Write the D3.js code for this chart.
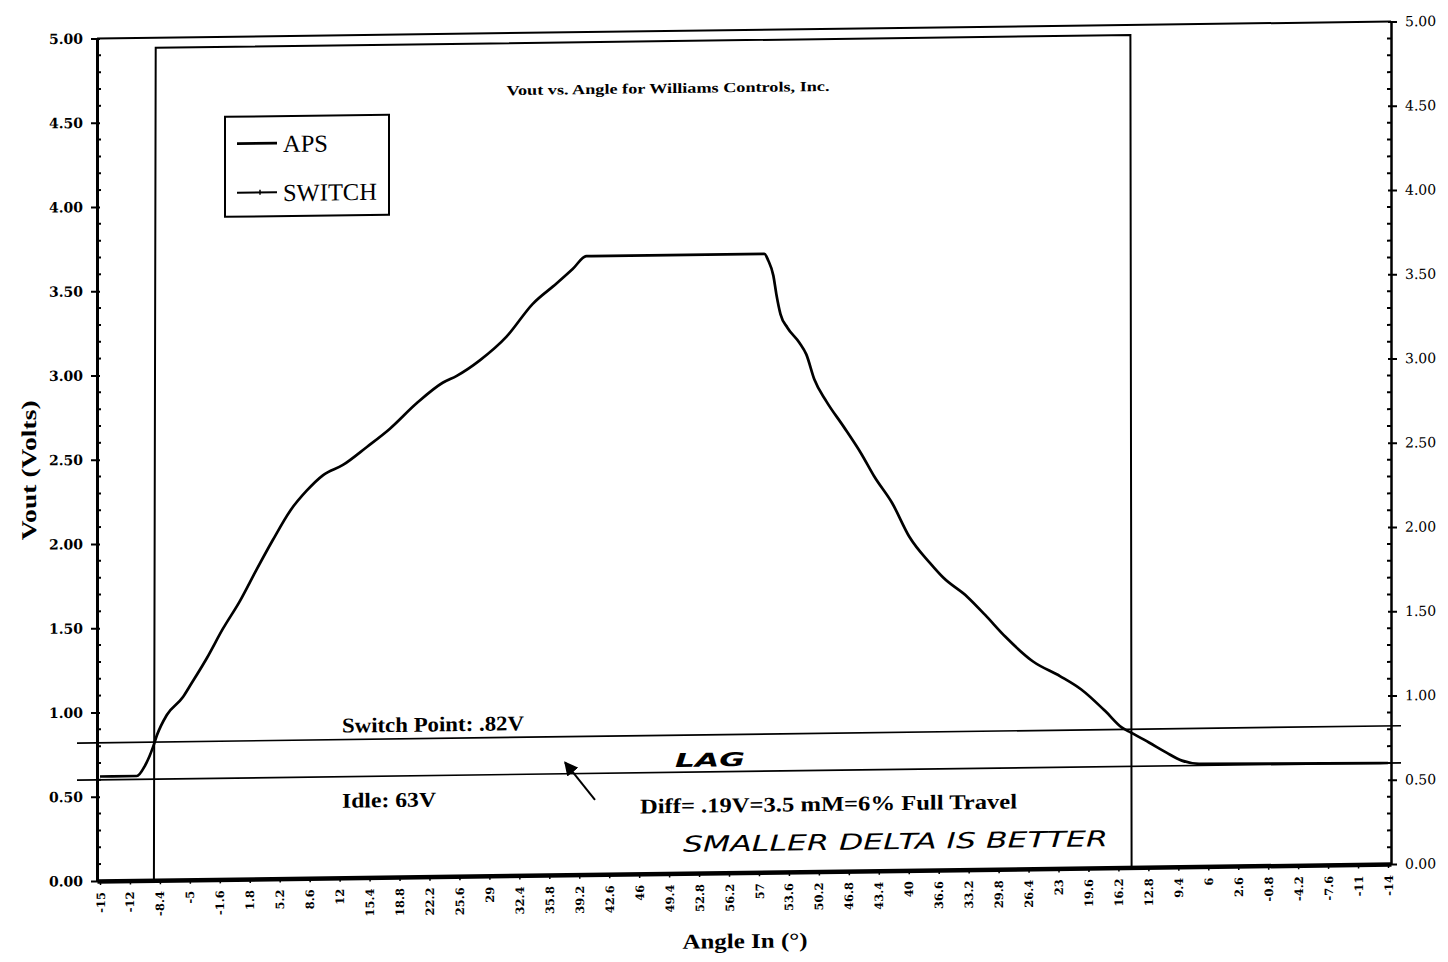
<!DOCTYPE html>
<html><head><meta charset="utf-8">
<script src="https://cdn.jsdelivr.net/npm/d3@7"></script>
<style>body{margin:0;background:#fff}</style>
</head><body>
<svg id="chart" width="1448" height="962"></svg>
<script>
// ---- data ----
const tickLabels = ["-15","-12","-8.4","-5","-1.6","1.8","5.2","8.6","12","15.4","18.8","22.2","25.6","29","32.4","35.8","39.2","42.6","46","49.4","52.8","56.2","57","53.6","50.2","46.8","43.4","40","36.6","33.2","29.8","26.4","23","19.6","16.2","12.8","9.4","6","2.6","-0.8","-4.2","-7.6","-11","-14"];
const yTickValues = [0, 0.5, 1, 1.5, 2, 2.5, 3, 3.5, 4, 4.5, 5];
// APS: position along the sweep (in tick-label units) and voltage
const apsPos   = [0, 1.23, 1.50, 1.77, 1.90, 2.23, 2.77, 3.00, 3.57, 4.10, 4.67, 5.24, 5.77, 6.34, 6.90, 7.44, 8.11, 8.91, 9.67, 10.57, 11.44, 11.91, 12.68, 13.58, 14.44, 15.24, 15.78, 16.24, 22.18, 22.31, 22.48, 22.58, 22.72, 22.95, 23.35, 23.58, 23.85, 24.25, 24.82, 25.42, 25.85, 26.45, 27.02, 27.72, 28.15, 28.95, 29.55, 30.22, 31.15, 32.06, 32.76, 33.56, 34.12, 34.42, 35.02, 35.59, 36.12, 36.69, 43];
const apsVolts = [0.62, 0.62, 0.68, 0.79, 0.86, 0.98, 1.085, 1.15, 1.315, 1.486, 1.65, 1.84, 2.01, 2.18, 2.30, 2.39, 2.45, 2.555, 2.66, 2.81, 2.93, 2.97, 3.06, 3.20, 3.39, 3.51, 3.595, 3.67, 3.67, 3.63, 3.54, 3.43, 3.31, 3.23, 3.14, 3.07, 2.92, 2.79, 2.64, 2.475, 2.34, 2.18, 1.98, 1.82, 1.735, 1.62, 1.51, 1.38, 1.23, 1.14, 1.06, 0.93, 0.83, 0.80, 0.74, 0.68, 0.63, 0.61, 0.60];
// SWITCH
const switchPos   = [0, 1.80, 1.86, 34.40, 34.44, 43];
const switchVolts = [0, 0, 4.94, 4.94, 0, 0];
// reference lines
const refValues = [0.82, 0.60];
const refLabels = ["Switch Point: .82V", "Idle: 63V"];
const seriesNames = ["APS", "SWITCH"];

// ---- layout ----
const W = 1294, H = 842.5;
const svg = d3.select("#chart");
// scanned page is slightly sheared
const g = svg.append("g").attr("transform", "matrix(1,-0.0131,0,1,97,38.5)");

const x = d3.scaleLinear().domain([-0.1, 43.1]).range([0, W]);
const y = d3.scaleLinear().domain([0, 5]).range([H, 0]);

const serif = "'Liberation Serif','Times New Roman',serif";
const tickFont = "'DejaVu Serif',serif";

// top border
g.append("line").attr("x1", 0).attr("x2", W).attr("y1", 0).attr("y2", 0)
  .attr("stroke", "#000").attr("stroke-width", 2);

// minor ticks
const minor = d3.range(0, 5.0001, 0.1).filter(v => Math.abs(v * 2 - Math.round(v * 2)) > 0.01);
g.append("g").selectAll("line").data(minor).join("line")
  .attr("x1", 0).attr("x2", 4).attr("y1", d => y(d)).attr("y2", d => y(d))
  .attr("stroke", "#000").attr("stroke-width", 2);
g.append("g").selectAll("line").data(minor).join("line")
  .attr("x1", W).attr("x2", W - 4).attr("y1", d => y(d)).attr("y2", d => y(d))
  .attr("stroke", "#000").attr("stroke-width", 2);

// left axis
const yl = g.append("g").call(d3.axisLeft(y).tickValues(yTickValues).tickFormat(d3.format(".2f"))
  .tickSizeInner(6).tickSizeOuter(0).tickPadding(8));
yl.select(".domain").attr("stroke-width", 3);
yl.selectAll(".tick line").attr("x2", -6).attr("x1", 3).attr("stroke-width", 2);
yl.selectAll(".tick text").attr("font-family", tickFont).attr("font-weight", "bold")
  .attr("font-size", 14).attr("fill", "#000");

// right axis
const yr = g.append("g").attr("transform", `translate(${W},0)`)
  .call(d3.axisRight(y).tickValues(yTickValues).tickFormat(d3.format(".2f"))
  .tickSizeInner(6).tickSizeOuter(0).tickPadding(8));
yr.select(".domain").attr("stroke-width", 2.5);
yr.selectAll(".tick line").attr("x1", -3).attr("stroke-width", 2);
yr.selectAll(".tick text").attr("font-family", tickFont)
  .attr("font-size", 14).attr("fill", "#000");

// x axis
const xa = g.append("g").attr("transform", `translate(0,${H})`)
  .call(d3.axisBottom(x).tickValues(d3.range(tickLabels.length)).tickFormat(i => tickLabels[i])
  .tickSizeInner(4).tickSizeOuter(0).tickPadding(8));
xa.select(".domain").attr("stroke-width", 4.5);
xa.selectAll(".tick line").attr("stroke-width", 1.5);
xa.selectAll(".tick text")
  .attr("font-family", tickFont).attr("font-weight", "bold").attr("font-size", 11.5).attr("fill", "#000")
  .attr("text-anchor", "end").attr("dy", "0.35em")
  .attr("transform", "rotate(-90)")
  .attr("x", -11).attr("y", 0);

// reference lines
g.append("g").selectAll("line").data(refValues).join("line")
  .attr("x1", -20).attr("x2", W + 10)
  .attr("y1", d => y(d)).attr("y2", d => y(d))
  .attr("stroke", "#000").attr("stroke-width", 1.7);

// series
const swData = switchPos.map((p, i) => [p, switchVolts[i]]);
const apsData = apsPos.map((p, i) => [p, apsVolts[i]]);
g.append("path").datum(swData)
  .attr("d", d3.line().x(d => x(d[0])).y(d => y(d[1])))
  .attr("fill", "none").attr("stroke", "#000").attr("stroke-width", 2);
g.append("path").datum(apsData)
  .attr("d", d3.line().curve(d3.curveMonotoneX).x(d => x(d[0])).y(d => y(d[1])))
  .attr("fill", "none").attr("stroke", "#000").attr("stroke-width", 2.7);

// title
g.append("text").attr("x", 571).attr("y", 62).attr("text-anchor", "middle")
  .attr("font-family", serif).attr("font-weight", "bold").attr("font-size", 14)
  .attr("textLength", 323).attr("lengthAdjust", "spacingAndGlyphs")
  .text("Vout vs. Angle for Williams Controls, Inc.");

// axis titles
g.append("text").attr("transform", "translate(-61,431) rotate(-90)").attr("text-anchor", "middle")
  .attr("font-family", serif).attr("font-weight", "bold").attr("font-size", 21)
  .attr("textLength", 140).attr("lengthAdjust", "spacingAndGlyphs")
  .text("Vout (Volts)");
g.append("text").attr("x", 648).attr("y", 918).attr("text-anchor", "middle")
  .attr("font-family", serif).attr("font-weight", "bold").attr("font-size", 21)
  .attr("textLength", 125).attr("lengthAdjust", "spacingAndGlyphs")
  .text("Angle In (°)");

// legend
const lg = g.append("g").attr("transform", "translate(128,80)");
lg.append("rect").attr("width", 164).attr("height", 100)
  .attr("fill", "#fff").attr("stroke", "#000").attr("stroke-width", 2);
const items = lg.selectAll("g").data(seriesNames).join("g")
  .attr("transform", (d, i) => `translate(0,${27 + i * 49})`);
items.append("line").attr("x1", 12).attr("x2", 52).attr("y1", 0).attr("y2", 0)
  .attr("stroke", "#000").attr("stroke-width", d => d === "APS" ? 2.7 : 2);
items.filter(d => d === "SWITCH").append("line").attr("x1", 35).attr("x2", 35).attr("y1", -2.5).attr("y2", 2.5)
  .attr("stroke", "#000").attr("stroke-width", 1.5);
items.append("text").attr("x", 58).attr("y", 9)
  .attr("font-family", serif).attr("font-size", 24.5).attr("fill", "#000")
  .text(d => d);

// reference line labels
const refLabelDy = [-7, 31];
const refWidths = [182, 94];
g.append("g").selectAll("text").data(refLabels).join("text")
  .attr("x", 245).attr("y", (d, i) => y(refValues[i]) + refLabelDy[i])
  .attr("font-family", serif).attr("font-weight", "bold").attr("font-size", 21)
  .attr("textLength", (d, i) => refWidths[i]).attr("lengthAdjust", "spacingAndGlyphs")
  .text(d => d);

// annotations
g.append("text").attr("x", 543).attr("y", 782)
  .attr("font-family", serif).attr("font-weight", "bold").attr("font-size", 21)
  .attr("textLength", 377).attr("lengthAdjust", "spacingAndGlyphs")
  .text("Diff= .19V=3.5 mM=6% Full Travel");
g.append("text").attr("x", 578).attr("y", 736)
  .attr("font-family", "'DejaVu Sans',sans-serif").attr("font-style", "italic").attr("font-weight", "bold")
  .attr("font-size", 19).attr("textLength", 70).attr("lengthAdjust", "spacingAndGlyphs")
  .text("LAG");
g.append("text").attr("x", 586).attr("y", 821)
  .attr("font-family", "'DejaVu Sans',sans-serif").attr("font-style", "italic")
  .attr("font-size", 22).attr("textLength", 425).attr("lengthAdjust", "spacingAndGlyphs")
  .text("SMALLER DELTA IS BETTER");

// arrow
svg.append("defs").append("marker").attr("id", "ah").attr("viewBox", "0 0 10 10")
  .attr("refX", 9).attr("refY", 5).attr("markerWidth", 7).attr("markerHeight", 7)
  .attr("orient", "auto").append("path").attr("d", "M0,0L10,5L0,10z").attr("fill", "#000");
g.append("line").attr("x1", 498).attr("y1", 768).attr("x2", 468).attr("y2", 730)
  .attr("stroke", "#000").attr("stroke-width", 2).attr("marker-end", "url(#ah)");
</script>
</body></html>
